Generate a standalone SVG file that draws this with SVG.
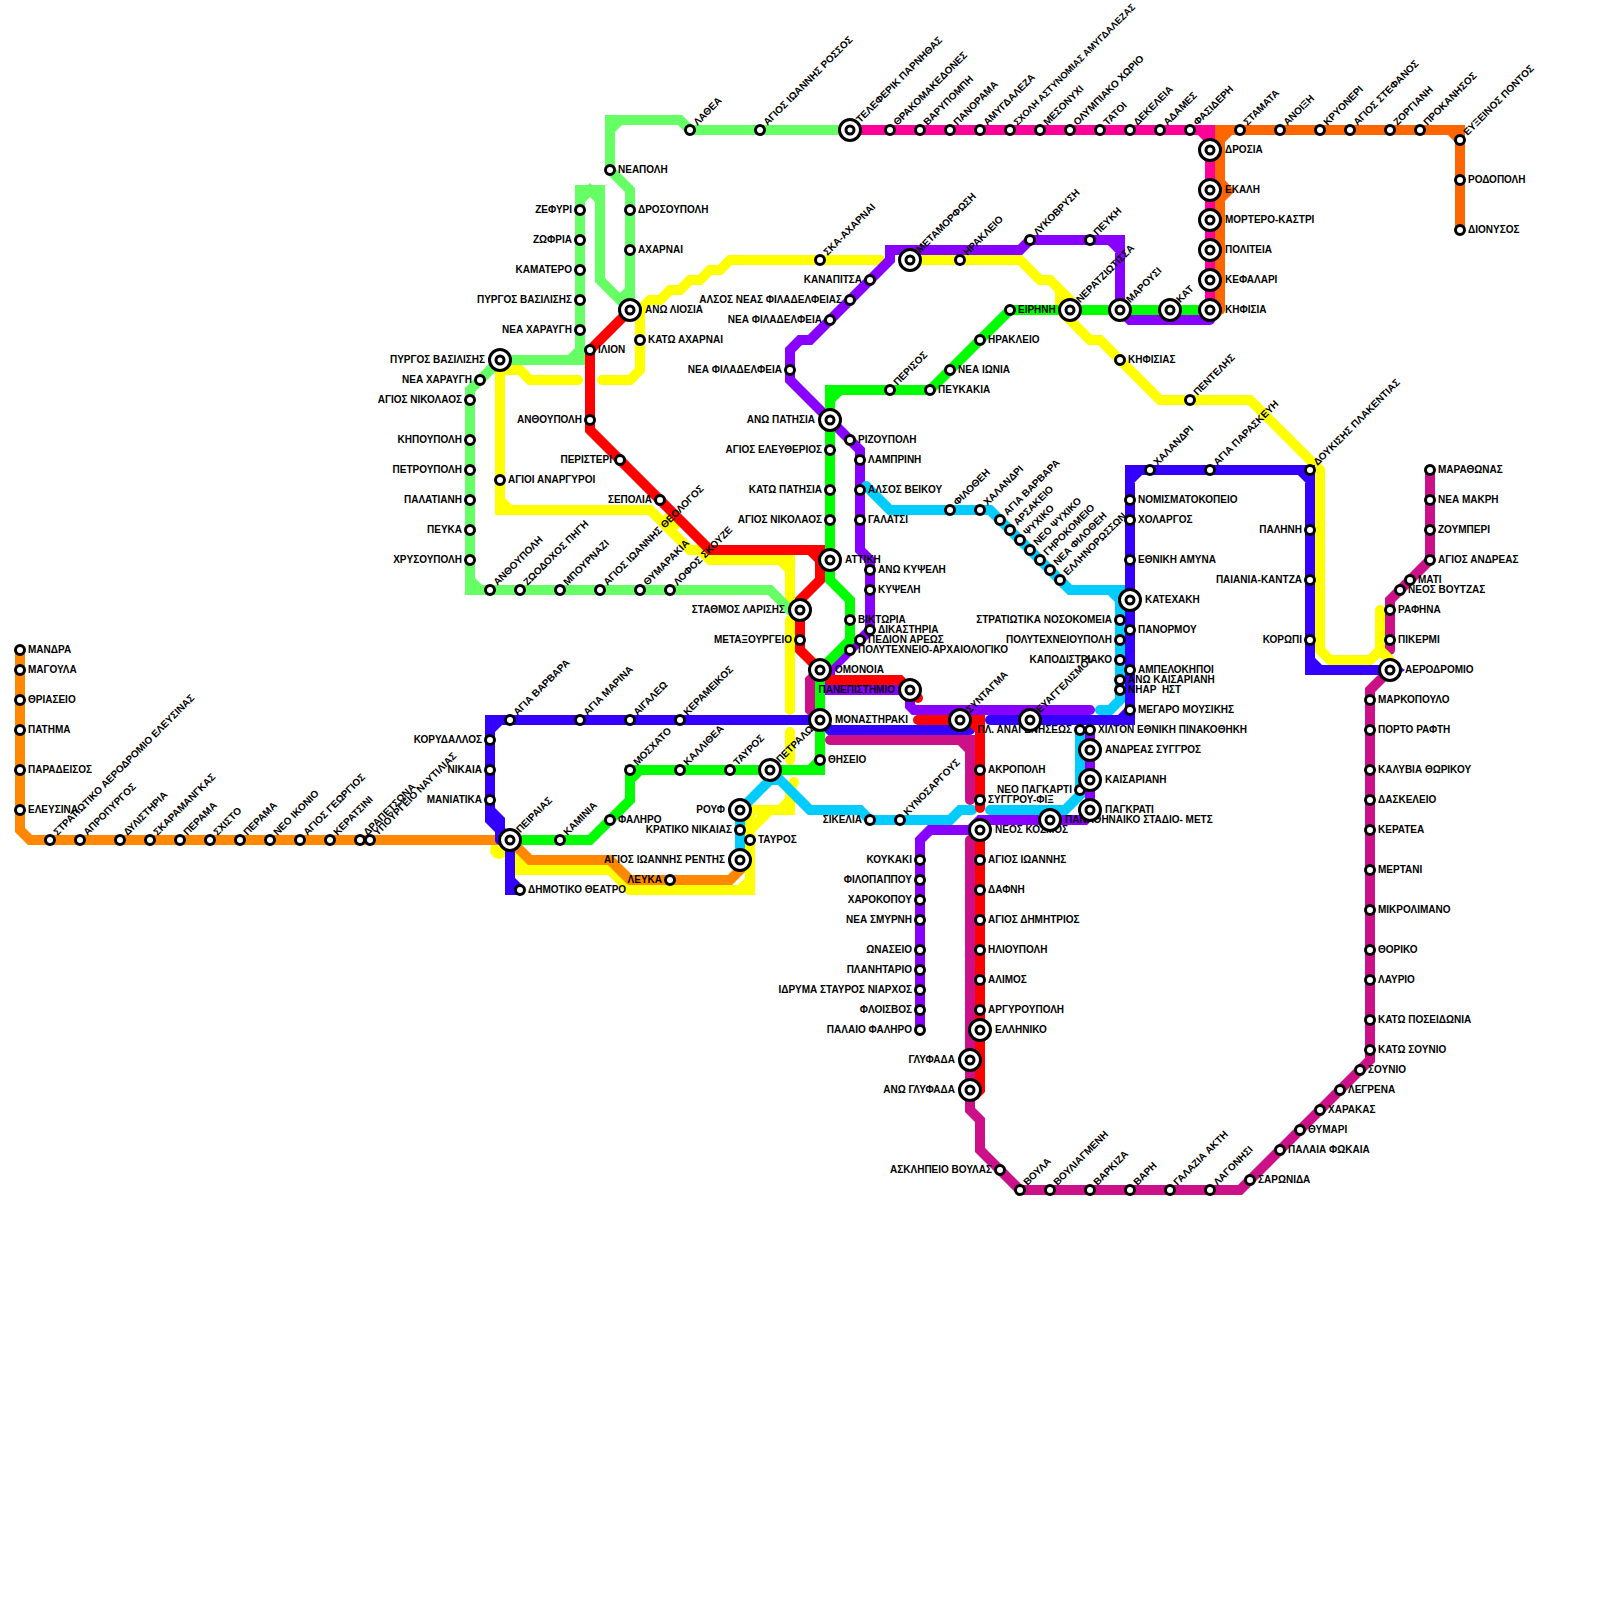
<svg xmlns="http://www.w3.org/2000/svg" width="1600" height="1600" viewBox="0 0 1600 1600">
<style>
text{font:bold 10px "Liberation Sans",Arial,sans-serif;fill:#000}
text.sm{font-size:9.4px}
.e{text-anchor:end}
.l{fill:none;stroke-width:10;stroke-linecap:round;stroke-linejoin:miter}
.mg{stroke:#cc1188}.or{stroke:#ff8800}.do{stroke:#ff6600}.ye{stroke:#ffff00}.hp{stroke:#ff0099}.lg{stroke:#66ff66}.pu{stroke:#8800ff}.cy{stroke:#00ccff}.bl{stroke:#3300ff}.re{stroke:#ff0000}.gr{stroke:#00ff00}
.ring{fill:#fff;stroke:#000;stroke-width:3}
</style>
<defs>
<g id="st"><circle r="4.5" class="ring"/></g>
<g id="ic"><circle r="10.5" class="ring"/><circle r="4" class="ring"/></g>
</defs>
<rect width="1600" height="1600" fill="#fff"/>
<g id="connectors">
<path class="l mg" d="M1430 470L1430 560L1390 600L1390 650M1390 670L1370 690L1370 1060L1240 1190L1020 1190L980 1150L980 1120L970 1110L970 840M820 670L810 680L810 710L820 720M830 740L970 740L970 800M960 740L970 750"/>
<path class="l ye" d="M500 380L500 370L520 370L530 380L578 380M500 370L500 510L650 510L690 550L700 550L710 560L790 560L790 600M500 500L510 510M780 560L790 570M668 518L675 525M602 380L630 380L640 370L640 310L650 300L660 300L670 290L680 290L690 280L700 280L710 270L720 270L730 260L880 260M905 260L1020 260L1040 280L1050 280L1060 290L1060 310L1090 340L1100 340L1160 400L1250 400L1320 470L1320 650L1330 660L1370 660L1380 650L1380 610M1380 650L1390 660M1050 280L1070 300M790 620L790 710M790 732L790 760M794 782L790 790L790 810L750 810L750 890L630 890L610 870L520 870L520 860L530 870M770 810L750 830M780 810L790 800M750 880L740 890"/>
<circle cx="499" cy="850" r="9" fill="#ffff00"/>
<path class="l or" d="M20 650L20 830L30 840L510 840L530 860L610 860L630 880L730 880L740 870L740 860"/>
<path class="l do" d="M1460 230L1460 130L1220 130L1220 310M1450 130L1460 140M1230 130L1220 140"/>
<path d="M1224 179L1235 191L1224 202Z" fill="#ff6600"/>
<path class="l hp" d="M850 130L1210 130L1210 310M1200 130L1210 140"/>
<path class="l lg" d="M850 130L690 130L680 120L610 120L610 170L630 190L630 310M630 310L600 280L600 190L580 190L580 360L500 360L470 390L470 590L770 590L790 610L800 610M610 130L620 120M620 300L630 290M600 200L590 190L580 200M580 350L570 360M470 580L480 590"/>
<path class="l pu" d="M1120 310L1120 240L1030 240L1020 250L890 250L890 260L810 340L800 340L790 350L790 380L860 450L860 550L870 560L870 630L830 670L830 690L910 690L910 706L914 710L1090 710M1110 240L1120 250M1120 310L1130 320L1210 320M1090 730L1090 815L1085 820L980 820L970 830L930 830L920 840L920 1030"/>
<path class="l cy" d="M866 486L890 510L990 510L1070 590L1120 590L1120 700L1110 710L1100 710M1110 590L1120 600M740 860L740 810L770 780L780 780L810 810L860 810L870 820L950 820L960 810L972 810M990 810L1065 810L1080 795L1080 730"/>
<path class="l bl" d="M1395 670L1310 670L1310 470L1130 470L1130 720L990 720M1130 480L1140 470M1300 470L1310 480M1310 660L1320 670M1130 710L1120 720M820 720L490 720L490 820L510 840L510 890L520 890M490 730L500 720M490 810L500 820L500 840M510 880L520 890M820 720L830 730L970 730"/>
<path d="M1396 664L1405 670L1396 676Z" fill="#3300ff"/>
<path class="l re" d="M630 310L590 350L590 430L710 550L820 550L820 580L800 600L800 650L830 680L900 680L918 698M810 550L820 560M918 720L980 720L980 808M970 720L980 730M980 830L980 1090L975 1095"/>
<path class="l gr" d="M510 840L590 840L630 800L630 770L820 770L820 670L850 640L850 600L830 580L830 390L930 390L1010 310L1210 310M630 780L640 770M810 770L820 760M830 400L840 390"/>
</g>
<g id="nodes">
<g id="n1"><use href="#st" x="20" y="650"/><text x="28" y="652.5">ΜΑΝΔΡΑ</text></g>
<g id="n2"><use href="#st" x="20" y="670"/><text x="28" y="672.5">ΜΑΓΟΥΛΑ</text></g>
<g id="n3"><use href="#st" x="20" y="700"/><text x="28" y="702.5">ΘΡΙΑΣΕΙΟ</text></g>
<g id="n4"><use href="#st" x="20" y="730"/><text x="28" y="732.5">ΠΑΤΗΜΑ</text></g>
<g id="n5"><use href="#st" x="20" y="770"/><text x="28" y="772.5">ΠΑΡΑΔΕΙΣΟΣ</text></g>
<g id="n6"><use href="#st" x="20" y="810"/><text x="28" y="812.5">ΕΛΕΥΣΙΝΑ</text></g>
<g id="n7"><use href="#st" x="50" y="840"/><text x="58" y="842.5" transform="rotate(-45 50 840)">ΣΤΡΑΤΙΩΤΙΚΟ ΑΕΡΟΔΡΟΜΙΟ ΕΛΕΥΣΙΝΑΣ</text></g>
<g id="n8"><use href="#st" x="80" y="840"/><text x="88" y="842.5" transform="rotate(-45 80 840)">ΑΠΡΟΠΥΡΓΟΣ</text></g>
<g id="n9"><use href="#st" x="120" y="840"/><text x="128" y="842.5" transform="rotate(-45 120 840)">ΔΥΛΙΣΤΗΡΙΑ</text></g>
<g id="n10"><use href="#st" x="150" y="840"/><text x="158" y="842.5" transform="rotate(-45 150 840)">ΣΚΑΡΑΜΑΝΓΚΑΣ</text></g>
<g id="n11"><use href="#st" x="180" y="840"/><text x="188" y="842.5" transform="rotate(-45 180 840)">ΠΕΡΑΜΑ</text></g>
<g id="n12"><use href="#st" x="210" y="840"/><text x="218" y="842.5" transform="rotate(-45 210 840)">ΣΧΙΣΤΟ</text></g>
<g id="n13"><use href="#st" x="240" y="840"/><text x="248" y="842.5" transform="rotate(-45 240 840)">ΠΕΡΑΜΑ</text></g>
<g id="n14"><use href="#st" x="270" y="840"/><text x="278" y="842.5" transform="rotate(-45 270 840)">ΝΕΟ ΙΚΟΝΙΟ</text></g>
<g id="n15"><use href="#st" x="300" y="840"/><text x="308" y="842.5" transform="rotate(-45 300 840)">ΑΓΙΟΣ ΓΕΩΡΓΙΟΣ</text></g>
<g id="n16"><use href="#st" x="330" y="840"/><text x="338" y="842.5" transform="rotate(-45 330 840)">ΚΕΡΑΤΣΙΝΙ</text></g>
<g id="n17"><use href="#st" x="360" y="840"/><text x="368" y="842.5" transform="rotate(-45 360 840)">ΔΡΑΠΕΤΣΩΝΑ</text></g>
<g id="n18"><use href="#st" x="370" y="840"/><text x="378" y="842.5" transform="rotate(-45 370 840)">ΥΠΟΥΡΓΕΙΟ ΝΑΥΤΙΛΙΑΣ</text></g>
<g id="n19"><use href="#st" x="490" y="740"/><text class="e" x="482" y="742.5">ΚΟΡΥΔΑΛΛΟΣ</text></g>
<g id="n20"><use href="#st" x="490" y="770"/><text class="e" x="482" y="772.5">ΝΙΚΑΙΑ</text></g>
<g id="n21"><use href="#st" x="490" y="800"/><text class="e" x="482" y="802.5">ΜΑΝΙΑΤΙΚΑ</text></g>
<g id="n22"><use href="#st" x="520" y="890"/><text x="528" y="892.5">ΔΗΜΟΤΙΚΟ ΘΕΑΤΡΟ</text></g>
<g id="n23"><use href="#st" x="510" y="720"/><text x="518" y="722.5" transform="rotate(-45 510 720)">ΑΓΙΑ ΒΑΡΒΑΡΑ</text></g>
<g id="n24"><use href="#st" x="580" y="720"/><text x="588" y="722.5" transform="rotate(-45 580 720)">ΑΓΙΑ ΜΑΡΙΝΑ</text></g>
<g id="n25"><use href="#st" x="630" y="720"/><text x="638" y="722.5" transform="rotate(-45 630 720)">ΑΙΓΑΛΕΩ</text></g>
<g id="n26"><use href="#st" x="680" y="720"/><text x="688" y="722.5" transform="rotate(-45 680 720)">ΚΕΡΑΜΕΙΚΟΣ</text></g>
<g id="n27"><use href="#st" x="560" y="840"/><text x="568" y="842.5" transform="rotate(-45 560 840)">ΚΑΜΙΝΙΑ</text></g>
<g id="n28"><use href="#st" x="610" y="820"/><text x="618" y="822.5">ΦΑΛΗΡΟ</text></g>
<g id="n29"><use href="#st" x="630" y="770"/><text x="638" y="772.5" transform="rotate(-45 630 770)">ΜΟΣΧΑΤΟ</text></g>
<g id="n30"><use href="#st" x="680" y="770"/><text x="688" y="772.5" transform="rotate(-45 680 770)">ΚΑΛΛΙΘΕΑ</text></g>
<g id="n31"><use href="#st" x="730" y="770"/><text x="738" y="772.5" transform="rotate(-45 730 770)">ΤΑΥΡΟΣ</text></g>
<g id="n32"><use href="#st" x="820" y="760"/><text x="828" y="762.5">ΘΗΣΕΙΟ</text></g>
<g id="n33"><use href="#st" x="740" y="830"/><text class="e" x="732" y="832.5">ΚΡΑΤΙΚΟ ΝΙΚΑΙΑΣ</text></g>
<g id="n34"><use href="#st" x="750" y="840"/><text x="758" y="842.5">ΤΑΥΡΟΣ</text></g>
<g id="n35"><use href="#st" x="670" y="880"/><text class="e" x="662" y="882.5">ΛΕΥΚΑ</text></g>
<g id="n36"><use href="#st" x="870" y="820"/><text class="e" x="862" y="822.5">ΣΙΚΕΛΙΑ</text></g>
<g id="n37"><use href="#st" x="900" y="820"/><text x="908" y="822.5" transform="rotate(-45 900 820)">ΚΥΝΟΣΑΡΓΟΥΣ</text></g>
<g id="n38"><use href="#st" x="590" y="350"/><text x="598" y="352.5">ΙΛΙΟΝ</text></g>
<g id="n39"><use href="#st" x="590" y="420"/><text class="e" x="582" y="422.5">ΑΝΘΟΥΠΟΛΗ</text></g>
<g id="n40"><use href="#st" x="620" y="460"/><text class="e" x="612" y="462.5">ΠΕΡΙΣΤΕΡΙ</text></g>
<g id="n41"><use href="#st" x="660" y="500"/><text class="e" x="652" y="502.5">ΣΕΠΟΛΙΑ</text></g>
<g id="n42"><use href="#st" x="800" y="640"/><text class="e" x="792" y="642.5">ΜΕΤΑΞΟΥΡΓΕΙΟ</text></g>
<g id="n43"><use href="#st" x="980" y="770"/><text x="988" y="772.5">ΑΚΡΟΠΟΛΗ</text></g>
<g id="n44"><use href="#st" x="980" y="800"/><text x="988" y="802.5">ΣΥΓΓΡΟΥ-ΦΙΞ</text></g>
<g id="n45"><use href="#st" x="980" y="860"/><text x="988" y="862.5">ΑΓΙΟΣ ΙΩΑΝΝΗΣ</text></g>
<g id="n46"><use href="#st" x="980" y="890"/><text x="988" y="892.5">ΔΑΦΝΗ</text></g>
<g id="n47"><use href="#st" x="980" y="920"/><text x="988" y="922.5">ΑΓΙΟΣ ΔΗΜΗΤΡΙΟΣ</text></g>
<g id="n48"><use href="#st" x="980" y="950"/><text x="988" y="952.5">ΗΛΙΟΥΠΟΛΗ</text></g>
<g id="n49"><use href="#st" x="980" y="980"/><text x="988" y="982.5">ΑΛΙΜΟΣ</text></g>
<g id="n50"><use href="#st" x="980" y="1010"/><text x="988" y="1012.5">ΑΡΓΥΡΟΥΠΟΛΗ</text></g>
<g id="n51"><use href="#st" x="850" y="440"/><text x="858" y="442.5">ΡΙΖΟΥΠΟΛΗ</text></g>
<g id="n52"><use href="#st" x="860" y="460"/><text x="868" y="462.5">ΛΑΜΠΡΙΝΗ</text></g>
<g id="n53"><use href="#st" x="860" y="490"/><text x="868" y="492.5">ΑΛΣΟΣ ΒΕΙΚΟΥ</text></g>
<g id="n54"><use href="#st" x="860" y="520"/><text x="868" y="522.5">ΓΑΛΑΤΣΙ</text></g>
<g id="n55"><use href="#st" x="870" y="570"/><text x="878" y="572.5">ΑΝΩ ΚΥΨΕΛΗ</text></g>
<g id="n56"><use href="#st" x="870" y="590"/><text x="878" y="592.5">ΚΥΨΕΛΗ</text></g>
<g id="n57"><use href="#st" x="850" y="620"/><text x="858" y="622.5">ΒΙΚΤΩΡΙΑ</text></g>
<g id="n58"><use href="#st" x="870" y="630"/><text x="878" y="632.5">ΔΙΚΑΣΤΗΡΙΑ</text></g>
<g id="n59"><use href="#st" x="860" y="640"/><text x="868" y="642.5">ΠΕΔΙΟΝ ΑΡΕΩΣ</text></g>
<g id="n60"><use href="#st" x="850" y="650"/><text x="858" y="652.5">ΠΟΛΥΤΕΧΝΕΙΟ-ΑΡΧΑΙΟΛΟΓΙΚΟ</text></g>
<g id="n61"><use href="#st" x="870" y="280"/><text class="e" x="862" y="282.5">ΚΑΝΑΠΙΤΣΑ</text></g>
<g id="n62"><use href="#st" x="850" y="300"/><text class="e" x="842" y="302.5">ΑΛΣΟΣ ΝΕΑΣ ΦΙΛΑΔΕΛΦΕΙΑΣ</text></g>
<g id="n63"><use href="#st" x="830" y="320"/><text class="e" x="822" y="322.5">ΝΕΑ ΦΙΛΑΔΕΛΦΕΙΑ</text></g>
<g id="n64"><use href="#st" x="790" y="370"/><text class="e" x="782" y="372.5">ΝΕΑ ΦΙΛΑΔΕΛΦΕΙΑ</text></g>
<g id="n65"><use href="#st" x="830" y="450"/><text class="e" x="822" y="452.5">ΑΓΙΟΣ ΕΛΕΥΘΕΡΙΟΣ</text></g>
<g id="n66"><use href="#st" x="830" y="490"/><text class="e" x="822" y="492.5">ΚΑΤΩ ΠΑΤΗΣΙΑ</text></g>
<g id="n67"><use href="#st" x="830" y="520"/><text class="e" x="822" y="522.5">ΑΓΙΟΣ ΝΙΚΟΛΑΟΣ</text></g>
<g id="n68"><use href="#st" x="890" y="390"/><text x="898" y="392.5" transform="rotate(-45 890 390)">ΠΕΡΙΣΟΣ</text></g>
<g id="n69"><use href="#st" x="930" y="390"/><text x="938" y="392.5">ΠΕΥΚΑΚΙΑ</text></g>
<g id="n70"><use href="#st" x="950" y="370"/><text x="958" y="372.5">ΝΕΑ ΙΩΝΙΑ</text></g>
<g id="n71"><use href="#st" x="980" y="340"/><text x="988" y="342.5">ΗΡΑΚΛΕΙΟ</text></g>
<g id="n72"><use href="#st" x="1010" y="310"/><text x="1018" y="312.5">ΕΙΡΗΝΗ</text></g>
<g id="n73"><use href="#st" x="1030" y="240"/><text x="1038" y="242.5" transform="rotate(-45 1030 240)">ΛΥΚΟΒΡΥΣΗ</text></g>
<g id="n74"><use href="#st" x="1090" y="240"/><text x="1098" y="242.5" transform="rotate(-45 1090 240)">ΠΕΥΚΗ</text></g>
<g id="n75"><use href="#st" x="960" y="260"/><text x="968" y="262.5" transform="rotate(-45 960 260)">ΗΡΑΚΛΕΙΟ</text></g>
<g id="n76"><use href="#st" x="820" y="260"/><text x="828" y="262.5" transform="rotate(-45 820 260)">ΣΚΑ-ΑΧΑΡΝΑΙ</text></g>
<g id="n77"><use href="#st" x="1120" y="360"/><text x="1128" y="362.5">ΚΗΦΙΣΙΑΣ</text></g>
<g id="n78"><use href="#st" x="1190" y="400"/><text x="1198" y="402.5" transform="rotate(-45 1190 400)">ΠΕΝΤΕΛΗΣ</text></g>
<g id="n79"><use href="#st" x="950" y="510"/><text x="958" y="512.5" transform="rotate(-45 950 510)">ΦΙΛΟΘΕΗ</text></g>
<g id="n80"><use href="#st" x="980" y="510"/><text x="988" y="512.5" transform="rotate(-45 980 510)">ΧΑΛΑΝΔΡΙ</text></g>
<g id="n81"><use href="#st" x="1000" y="520"/><text x="1008" y="522.5" transform="rotate(-45 1000 520)">ΑΓΙΑ ΒΑΡΒΑΡΑ</text></g>
<g id="n82"><use href="#st" x="1010" y="530"/><text x="1018" y="532.5" transform="rotate(-45 1010 530)">ΑΡΣΑΚΕΙΟ</text></g>
<g id="n83"><use href="#st" x="1020" y="540"/><text x="1028" y="542.5" transform="rotate(-45 1020 540)">ΨΥΧΙΚΟ</text></g>
<g id="n84"><use href="#st" x="1030" y="550"/><text x="1038" y="552.5" transform="rotate(-45 1030 550)">ΝΕΟ ΨΥΧΙΚΟ</text></g>
<g id="n85"><use href="#st" x="1040" y="560"/><text x="1048" y="562.5" transform="rotate(-45 1040 560)">ΓΗΡΟΚΟΜΕΙΟ</text></g>
<g id="n86"><use href="#st" x="1050" y="570"/><text x="1058" y="572.5" transform="rotate(-45 1050 570)">ΝΕΑ ΦΙΛΟΘΕΗ</text></g>
<g id="n87"><use href="#st" x="1060" y="580"/><text x="1068" y="582.5" transform="rotate(-45 1060 580)">ΕΛΛΗΝΟΡΩΣΣΩΝ</text></g>
<g id="n88"><use href="#st" x="1120" y="620"/><text class="e" x="1112" y="622.5">ΣΤΡΑΤΙΩΤΙΚΑ ΝΟΣΟΚΟΜΕΙΑ</text></g>
<g id="n89"><use href="#st" x="1120" y="640"/><text class="e" x="1112" y="642.5">ΠΟΛΥΤΕΧΝΕΙΟΥΠΟΛΗ</text></g>
<g id="n90"><use href="#st" x="1120" y="660"/><text class="e" x="1112" y="662.5">ΚΑΠΟΔΙΣΤΡΙΑΚΟ</text></g>
<g id="n91"><use href="#st" x="1120" y="680"/><text x="1128" y="682.5">ΑΝΩ ΚΑΙΣΑΡΙΑΝΗ</text></g>
<g id="n92"><use href="#st" x="1120" y="690"/><text x="1128" y="692.5" xml:space="preserve">ΝΗΑΡ  ΗΣΤ</text></g>
<g id="n93"><use href="#st" x="1130" y="500"/><text x="1138" y="502.5">ΝΟΜΙΣΜΑΤΟΚΟΠΕΙΟ</text></g>
<g id="n94"><use href="#st" x="1130" y="520"/><text x="1138" y="522.5">ΧΟΛΑΡΓΟΣ</text></g>
<g id="n95"><use href="#st" x="1130" y="560"/><text x="1138" y="562.5">ΕΘΝΙΚΗ ΑΜΥΝΑ</text></g>
<g id="n96"><use href="#st" x="1130" y="630"/><text x="1138" y="632.5">ΠΑΝΟΡΜΟΥ</text></g>
<g id="n97"><use href="#st" x="1130" y="670"/><text x="1138" y="672.5">ΑΜΠΕΛΟΚΗΠΟΙ</text></g>
<g id="n98"><use href="#st" x="1130" y="710"/><text x="1138" y="712.5">ΜΕΓΑΡΟ ΜΟΥΣΙΚΗΣ</text></g>
<g id="n99"><use href="#st" x="1150" y="470"/><text x="1158" y="472.5" transform="rotate(-45 1150 470)">ΧΑΛΑΝΔΡΙ</text></g>
<g id="n100"><use href="#st" x="1210" y="470"/><text x="1218" y="472.5" transform="rotate(-45 1210 470)">ΑΓΙΑ ΠΑΡΑΣΚΕΥΗ</text></g>
<g id="n101"><use href="#st" x="1310" y="470"/><text x="1318" y="472.5" transform="rotate(-45 1310 470)">ΔΟΥΚΙΣΗΣ ΠΛΑΚΕΝΤΙΑΣ</text></g>
<g id="n102"><use href="#st" x="1310" y="530"/><text class="e" x="1302" y="532.5">ΠΑΛΗΝΗ</text></g>
<g id="n103"><use href="#st" x="1310" y="580"/><text class="e" x="1302" y="582.5">ΠΑΙΑΝΙΑ-ΚΑΝΤΖΑ</text></g>
<g id="n104"><use href="#st" x="1310" y="640"/><text class="e" x="1302" y="642.5">ΚΟΡΩΠΙ</text></g>
<g id="n105"><use href="#st" x="1080" y="730"/><text class="e" x="1072" y="732.5">ΠΛ. ΑΝΑΓΕΝΗΣΕΩΣ</text></g>
<g id="n106"><use href="#st" x="1090" y="730"/><text x="1098" y="732.5">ΧΙΛΤΟΝ ΕΘΝΙΚΗ ΠΙΝΑΚΟΘΗΚΗ</text></g>
<g id="n107"><use href="#st" x="1080" y="790"/><text class="e" x="1072" y="792.5">ΝΕΟ ΠΑΓΚΑΡΤΙ</text></g>
<g id="n108"><use href="#st" x="1430" y="470"/><text x="1438" y="472.5">ΜΑΡΑΘΩΝΑΣ</text></g>
<g id="n109"><use href="#st" x="1430" y="500"/><text x="1438" y="502.5">ΝΕΑ ΜΑΚΡΗ</text></g>
<g id="n110"><use href="#st" x="1430" y="530"/><text x="1438" y="532.5">ΖΟΥΜΠΕΡΙ</text></g>
<g id="n111"><use href="#st" x="1430" y="560"/><text x="1438" y="562.5">ΑΓΙΟΣ ΑΝΔΡΕΑΣ</text></g>
<g id="n112"><use href="#st" x="1410" y="580"/><text x="1418" y="582.5">ΜΑΤΙ</text></g>
<g id="n113"><use href="#st" x="1400" y="590"/><text x="1408" y="592.5">ΝΕΟΣ ΒΟΥΤΖΑΣ</text></g>
<g id="n114"><use href="#st" x="1390" y="610"/><text x="1398" y="612.5">ΡΑΦΗΝΑ</text></g>
<g id="n115"><use href="#st" x="1390" y="640"/><text x="1398" y="642.5">ΠΙΚΕΡΜΙ</text></g>
<g id="n116"><use href="#st" x="1370" y="700"/><text x="1378" y="702.5">ΜΑΡΚΟΠΟΥΛΟ</text></g>
<g id="n117"><use href="#st" x="1370" y="730"/><text x="1378" y="732.5">ΠΟΡΤΟ ΡΑΦΤΗ</text></g>
<g id="n118"><use href="#st" x="1370" y="770"/><text x="1378" y="772.5">ΚΑΛΥΒΙΑ ΘΩΡΙΚΟΥ</text></g>
<g id="n119"><use href="#st" x="1370" y="800"/><text x="1378" y="802.5">ΔΑΣΚΕΛΕΙΟ</text></g>
<g id="n120"><use href="#st" x="1370" y="830"/><text x="1378" y="832.5">ΚΕΡΑΤΕΑ</text></g>
<g id="n121"><use href="#st" x="1370" y="870"/><text x="1378" y="872.5">ΜΕΡΤΑΝΙ</text></g>
<g id="n122"><use href="#st" x="1370" y="910"/><text x="1378" y="912.5">ΜΙΚΡΟΛΙΜΑΝΟ</text></g>
<g id="n123"><use href="#st" x="1370" y="950"/><text x="1378" y="952.5">ΘΟΡΙΚΟ</text></g>
<g id="n124"><use href="#st" x="1370" y="980"/><text x="1378" y="982.5">ΛΑΥΡΙΟ</text></g>
<g id="n125"><use href="#st" x="1370" y="1020"/><text x="1378" y="1022.5">ΚΑΤΩ ΠΟΣΕΙΔΩΝΙΑ</text></g>
<g id="n126"><use href="#st" x="1370" y="1050"/><text x="1378" y="1052.5">ΚΑΤΩ ΣΟΥΝΙΟ</text></g>
<g id="n127"><use href="#st" x="1360" y="1070"/><text x="1368" y="1072.5">ΣΟΥΝΙΟ</text></g>
<g id="n128"><use href="#st" x="1340" y="1090"/><text x="1348" y="1092.5">ΛΕΓΡΕΝΑ</text></g>
<g id="n129"><use href="#st" x="1320" y="1110"/><text x="1328" y="1112.5">ΧΑΡΑΚΑΣ</text></g>
<g id="n130"><use href="#st" x="1300" y="1130"/><text x="1308" y="1132.5">ΘΥΜΑΡΙ</text></g>
<g id="n131"><use href="#st" x="1280" y="1150"/><text x="1288" y="1152.5">ΠΑΛΑΙΑ ΦΩΚΑΙΑ</text></g>
<g id="n132"><use href="#st" x="1250" y="1180"/><text x="1258" y="1182.5">ΣΑΡΩΝΙΔΑ</text></g>
<g id="n133"><use href="#st" x="1210" y="1190"/><text x="1218" y="1192.5" transform="rotate(-45 1210 1190)">ΛΑΓΟΝΗΣΙ</text></g>
<g id="n134"><use href="#st" x="1170" y="1190"/><text x="1178" y="1192.5" transform="rotate(-45 1170 1190)">ΓΑΛΑΖΙΑ ΑΚΤΗ</text></g>
<g id="n135"><use href="#st" x="1130" y="1190"/><text x="1138" y="1192.5" transform="rotate(-45 1130 1190)">ΒΑΡΗ</text></g>
<g id="n136"><use href="#st" x="1090" y="1190"/><text x="1098" y="1192.5" transform="rotate(-45 1090 1190)">ΒΑΡΚΙΖΑ</text></g>
<g id="n137"><use href="#st" x="1050" y="1190"/><text x="1058" y="1192.5" transform="rotate(-45 1050 1190)">ΒΟΥΛΙΑΓΜΕΝΗ</text></g>
<g id="n138"><use href="#st" x="1020" y="1190"/><text x="1028" y="1192.5" transform="rotate(-45 1020 1190)">ΒΟΥΛΑ</text></g>
<g id="n139"><use href="#st" x="1000" y="1170"/><text class="e" x="992" y="1172.5">ΑΣΚΛΗΠΕΙΟ ΒΟΥΛΑΣ</text></g>
<g id="n140"><use href="#st" x="920" y="860"/><text class="e" x="912" y="862.5">ΚΟΥΚΑΚΙ</text></g>
<g id="n141"><use href="#st" x="920" y="880"/><text class="e" x="912" y="882.5">ΦΙΛΟΠΑΠΠΟΥ</text></g>
<g id="n142"><use href="#st" x="920" y="900"/><text class="e" x="912" y="902.5">ΧΑΡΟΚΟΠΟΥ</text></g>
<g id="n143"><use href="#st" x="920" y="920"/><text class="e" x="912" y="922.5">ΝΕΑ ΣΜΥΡΝΗ</text></g>
<g id="n144"><use href="#st" x="920" y="950"/><text class="e" x="912" y="952.5">ΩΝΑΣΕΙΟ</text></g>
<g id="n145"><use href="#st" x="920" y="970"/><text class="e" x="912" y="972.5">ΠΛΑΝΗΤΑΡΙΟ</text></g>
<g id="n146"><use href="#st" x="920" y="990"/><text class="e" x="912" y="992.5">ΙΔΡΥΜΑ ΣΤΑΥΡΟΣ ΝΙΑΡΧΟΣ</text></g>
<g id="n147"><use href="#st" x="920" y="1010"/><text class="e" x="912" y="1012.5">ΦΛΟΙΣΒΟΣ</text></g>
<g id="n148"><use href="#st" x="920" y="1030"/><text class="e" x="912" y="1032.5">ΠΑΛΑΙΟ ΦΑΛΗΡΟ</text></g>
<g id="n149"><use href="#st" x="640" y="340"/><text x="648" y="342.5">ΚΑΤΩ ΑΧΑΡΝΑΙ</text></g>
<g id="n150"><use href="#st" x="500" y="480"/><text x="508" y="482.5">ΑΓΙΟΙ ΑΝΑΡΓΥΡΟΙ</text></g>
<g id="n151"><use href="#st" x="580" y="210"/><text class="e" x="572" y="212.5">ΖΕΦΥΡΙ</text></g>
<g id="n152"><use href="#st" x="580" y="240"/><text class="e" x="572" y="242.5">ΖΩΦΡΙΑ</text></g>
<g id="n153"><use href="#st" x="580" y="270"/><text class="e" x="572" y="272.5">ΚΑΜΑΤΕΡΟ</text></g>
<g id="n154"><use href="#st" x="580" y="300"/><text class="e" x="572" y="302.5">ΠΥΡΓΟΣ ΒΑΣΙΛΙΣΗΣ</text></g>
<g id="n155"><use href="#st" x="580" y="330"/><text class="e" x="572" y="332.5">ΝΕΑ ΧΑΡΑΥΓΗ</text></g>
<g id="n156"><use href="#st" x="610" y="170"/><text x="618" y="172.5">ΝΕΑΠΟΛΗ</text></g>
<g id="n157"><use href="#st" x="630" y="210"/><text x="638" y="212.5">ΔΡΟΣΟΥΠΟΛΗ</text></g>
<g id="n158"><use href="#st" x="630" y="250"/><text x="638" y="252.5">ΑΧΑΡΝΑΙ</text></g>
<g id="n159"><use href="#st" x="480" y="380"/><text class="e" x="472" y="382.5">ΝΕΑ ΧΑΡΑΥΓΗ</text></g>
<g id="n160"><use href="#st" x="470" y="400"/><text class="e" x="462" y="402.5">ΑΓΙΟΣ ΝΙΚΟΛΑΟΣ</text></g>
<g id="n161"><use href="#st" x="470" y="440"/><text class="e" x="462" y="442.5">ΚΗΠΟΥΠΟΛΗ</text></g>
<g id="n162"><use href="#st" x="470" y="470"/><text class="e" x="462" y="472.5">ΠΕΤΡΟΥΠΟΛΗ</text></g>
<g id="n163"><use href="#st" x="470" y="500"/><text class="e" x="462" y="502.5">ΠΑΛΑΤΙΑΝΗ</text></g>
<g id="n164"><use href="#st" x="470" y="530"/><text class="e" x="462" y="532.5">ΠΕΥΚΑ</text></g>
<g id="n165"><use href="#st" x="470" y="560"/><text class="e" x="462" y="562.5">ΧΡΥΣΟΥΠΟΛΗ</text></g>
<g id="n166"><use href="#st" x="490" y="590"/><text x="498" y="592.5" transform="rotate(-45 490 590)">ΑΝΘΟΥΠΟΛΗ</text></g>
<g id="n167"><use href="#st" x="520" y="590"/><text x="528" y="592.5" transform="rotate(-45 520 590)">ΖΩΟΔΟΧΟΣ ΠΗΓΗ</text></g>
<g id="n168"><use href="#st" x="560" y="590"/><text x="568" y="592.5" transform="rotate(-45 560 590)">ΜΠΟΥΡΝΑΖΙ</text></g>
<g id="n169"><use href="#st" x="600" y="590"/><text x="608" y="592.5" transform="rotate(-45 600 590)">ΑΓΙΟΣ ΙΩΑΝΝΗΣ ΘΕΟΛΟΓΟΣ</text></g>
<g id="n170"><use href="#st" x="640" y="590"/><text x="648" y="592.5" transform="rotate(-45 640 590)">ΘΥΜΑΡΑΚΙΑ</text></g>
<g id="n171"><use href="#st" x="670" y="590"/><text x="678" y="592.5" transform="rotate(-45 670 590)">ΛΟΦΟΣ ΣΚΟΥΖΕ</text></g>
<g id="n172"><use href="#st" x="690" y="130"/><text x="698" y="132.5" transform="rotate(-45 690 130)">ΛΑΘΕΑ</text></g>
<g id="n173"><use href="#st" x="760" y="130"/><text x="768" y="132.5" transform="rotate(-45 760 130)">ΑΓΙΟΣ ΙΩΑΝΝΗΣ ΡΟΣΣΟΣ</text></g>
<g id="n174"><use href="#st" x="890" y="130"/><text x="898" y="132.5" transform="rotate(-45 890 130)">ΘΡΑΚΟΜΑΚΕΔΟΝΕΣ</text></g>
<g id="n175"><use href="#st" x="920" y="130"/><text x="928" y="132.5" transform="rotate(-45 920 130)">ΒΑΡΥΠΟΜΠΗ</text></g>
<g id="n176"><use href="#st" x="950" y="130"/><text x="958" y="132.5" transform="rotate(-45 950 130)">ΠΑΝΟΡΑΜΑ</text></g>
<g id="n177"><use href="#st" x="980" y="130"/><text x="988" y="132.5" transform="rotate(-45 980 130)">ΑΜΥΓΔΑΛΕΖΑ</text></g>
<g id="n178"><use href="#st" x="1010" y="130"/><text class="sm" x="1018" y="132.5" transform="rotate(-45 1010 130)">ΣΧΟΛΗ ΑΣΤΥΝΟΜΙΑΣ ΑΜΥΓΔΑΛΕΖΑΣ</text></g>
<g id="n179"><use href="#st" x="1040" y="130"/><text x="1048" y="132.5" transform="rotate(-45 1040 130)">ΜΕΣΟΝΥΧΙ</text></g>
<g id="n180"><use href="#st" x="1070" y="130"/><text x="1078" y="132.5" transform="rotate(-45 1070 130)">ΟΛΥΜΠΙΑΚΟ ΧΩΡΙΟ</text></g>
<g id="n181"><use href="#st" x="1100" y="130"/><text x="1108" y="132.5" transform="rotate(-45 1100 130)">ΤΑΤΟΙ</text></g>
<g id="n182"><use href="#st" x="1130" y="130"/><text x="1138" y="132.5" transform="rotate(-45 1130 130)">ΔΕΚΕΛΕΙΑ</text></g>
<g id="n183"><use href="#st" x="1160" y="130"/><text x="1168" y="132.5" transform="rotate(-45 1160 130)">ΑΔΑΜΕΣ</text></g>
<g id="n184"><use href="#st" x="1190" y="130"/><text x="1198" y="132.5" transform="rotate(-45 1190 130)">ΦΑΣΙΔΕΡΗ</text></g>
<g id="n185"><use href="#st" x="1240" y="130"/><text x="1248" y="132.5" transform="rotate(-45 1240 130)">ΣΤΑΜΑΤΑ</text></g>
<g id="n186"><use href="#st" x="1280" y="130"/><text x="1288" y="132.5" transform="rotate(-45 1280 130)">ΑΝΟΙΞΗ</text></g>
<g id="n187"><use href="#st" x="1320" y="130"/><text x="1328" y="132.5" transform="rotate(-45 1320 130)">ΚΡΥΟΝΕΡΙ</text></g>
<g id="n188"><use href="#st" x="1350" y="130"/><text x="1358" y="132.5" transform="rotate(-45 1350 130)">ΑΓΙΟΣ ΣΤΕΦΑΝΟΣ</text></g>
<g id="n189"><use href="#st" x="1390" y="130"/><text x="1398" y="132.5" transform="rotate(-45 1390 130)">ΖΟΡΓΙΑΝΗ</text></g>
<g id="n190"><use href="#st" x="1420" y="130"/><text x="1428" y="132.5" transform="rotate(-45 1420 130)">ΠΡΟΚΑΝΗΣΟΣ</text></g>
<g id="n191"><use href="#st" x="1460" y="140"/><text x="1468" y="142.5" transform="rotate(-45 1460 140)">ΕΥΞΕΙΝΟΣ ΠΟΝΤΟΣ</text></g>
<g id="n192"><use href="#st" x="1460" y="180"/><text x="1468" y="182.5">ΡΟΔΟΠΟΛΗ</text></g>
<g id="n193"><use href="#st" x="1460" y="230"/><text x="1468" y="232.5">ΔΙΟΝΥΣΟΣ</text></g>
<g id="n194"><use href="#ic" x="510" y="840"/><text x="522" y="842.5" transform="rotate(-45 510 840)">ΠΕΙΡΑΙΑΣ</text></g>
<g id="n195"><use href="#ic" x="770" y="770"/><text x="782" y="772.5" transform="rotate(-45 770 770)">ΠΕΤΡΑΛΩΝΑ</text></g>
<g id="n196"><use href="#ic" x="820" y="720"/><text x="835" y="722.5">ΜΟΝΑΣΤΗΡΑΚΙ</text></g>
<g id="n197"><use href="#ic" x="820" y="670"/><text x="835" y="672.5">ΟΜΟΝΟΙΑ</text></g>
<g id="n198"><use href="#ic" x="740" y="810"/><text class="e" x="725" y="812.5">ΡΟΥΦ</text></g>
<g id="n199"><use href="#ic" x="740" y="860"/><text class="e" x="725" y="862.5">ΑΓΙΟΣ ΙΩΑΝΝΗΣ ΡΕΝΤΗΣ</text></g>
<g id="n200"><use href="#ic" x="630" y="310"/><text x="645" y="312.5">ΑΝΩ ΛΙΟΣΙΑ</text></g>
<g id="n201"><use href="#ic" x="500" y="360"/><text class="e" x="485" y="362.5">ΠΥΡΓΟΣ ΒΑΣΙΛΙΣΗΣ</text></g>
<g id="n202"><use href="#ic" x="830" y="560"/><text x="845" y="562.5">ΑΤΤΙΚΗ</text></g>
<g id="n203"><use href="#ic" x="800" y="610"/><text class="e" x="785" y="612.5">ΣΤΑΘΜΟΣ ΛΑΡΙΣΗΣ</text></g>
<g id="n204"><use href="#ic" x="910" y="690"/><text class="e" x="895" y="692.5">ΠΑΝΕΠΙΣΤΗΜΙΟ</text></g>
<g id="n205"><use href="#ic" x="960" y="720"/><text x="972" y="722.5" transform="rotate(-45 960 720)">ΣΥΝΤΑΓΜΑ</text></g>
<g id="n206"><use href="#ic" x="980" y="830"/><text x="995" y="832.5">ΝΕΟΣ ΚΟΣΜΟΣ</text></g>
<g id="n207"><use href="#ic" x="980" y="1030"/><text x="995" y="1032.5">ΕΛΛΗΝΙΚΟ</text></g>
<g id="n208"><use href="#ic" x="970" y="1060"/><text class="e" x="955" y="1062.5">ΓΛΥΦΑΔΑ</text></g>
<g id="n209"><use href="#ic" x="970" y="1090"/><text class="e" x="955" y="1092.5">ΑΝΩ ΓΛΥΦΑΔΑ</text></g>
<g id="n210"><use href="#ic" x="830" y="420"/><text class="e" x="815" y="422.5">ΑΝΩ ΠΑΤΗΣΙΑ</text></g>
<g id="n211"><use href="#ic" x="1070" y="310"/><text x="1082" y="312.5" transform="rotate(-45 1070 310)">ΝΕΡΑΤΖΙΩΤΙΣΣΑ</text></g>
<g id="n212"><use href="#ic" x="1120" y="310"/><text x="1132" y="312.5" transform="rotate(-45 1120 310)">ΜΑΡΟΥΣΙ</text></g>
<g id="n213"><use href="#ic" x="1170" y="310"/><text x="1182" y="312.5" transform="rotate(-45 1170 310)">ΚΑΤ</text></g>
<g id="n214"><use href="#ic" x="1210" y="310"/><text x="1225" y="312.5">ΚΗΦΙΣΙΑ</text></g>
<g id="n215"><use href="#ic" x="1210" y="280"/><text x="1225" y="282.5">ΚΕΦΑΛΑΡΙ</text></g>
<g id="n216"><use href="#ic" x="1210" y="250"/><text x="1225" y="252.5">ΠΟΛΙΤΕΙΑ</text></g>
<g id="n217"><use href="#ic" x="1210" y="220"/><text x="1225" y="222.5">ΜΟΡΤΕΡΟ-ΚΑΣΤΡΙ</text></g>
<g id="n218"><use href="#ic" x="1210" y="190"/><text x="1225" y="192.5">ΕΚΑΛΗ</text></g>
<g id="n219"><use href="#ic" x="1210" y="150"/><text x="1225" y="152.5">ΔΡΟΣΙΑ</text></g>
<g id="n220"><use href="#ic" x="910" y="260"/><text x="922" y="262.5" transform="rotate(-45 910 260)">ΜΕΤΑΜΟΡΦΩΣΗ</text></g>
<g id="n221"><use href="#ic" x="850" y="130"/><text x="862" y="132.5" transform="rotate(-45 850 130)">ΤΕΛΕΦΕΡΙΚ ΠΑΡΝΗΘΑΣ</text></g>
<g id="n222"><use href="#ic" x="1130" y="600"/><text x="1145" y="602.5">ΚΑΤΕΧΑΚΗ</text></g>
<g id="n223"><use href="#ic" x="1030" y="720"/><text x="1042" y="722.5" transform="rotate(-45 1030 720)">ΕΥΑΓΓΕΛΙΣΜΟΣ</text></g>
<g id="n224"><use href="#ic" x="1390" y="670"/><text x="1405" y="672.5">ΑΕΡΟΔΡΟΜΙΟ</text></g>
<g id="n225"><use href="#ic" x="1090" y="750"/><text x="1105" y="752.5">ΑΝΔΡΕΑΣ ΣΥΓΓΡΟΣ</text></g>
<g id="n226"><use href="#ic" x="1090" y="780"/><text x="1105" y="782.5">ΚΑΙΣΑΡΙΑΝΗ</text></g>
<g id="n227"><use href="#ic" x="1050" y="820"/><text x="1065" y="822.5">ΠΑΝΑΘΗΝΑΙΚΟ ΣΤΑΔΙΟ- ΜΕΤΣ</text></g>
<g id="n228"><use href="#ic" x="1090" y="810"/><text x="1105" y="812.5">ΠΑΓΚΡΑΤΙ</text></g>
</g>
</svg>
